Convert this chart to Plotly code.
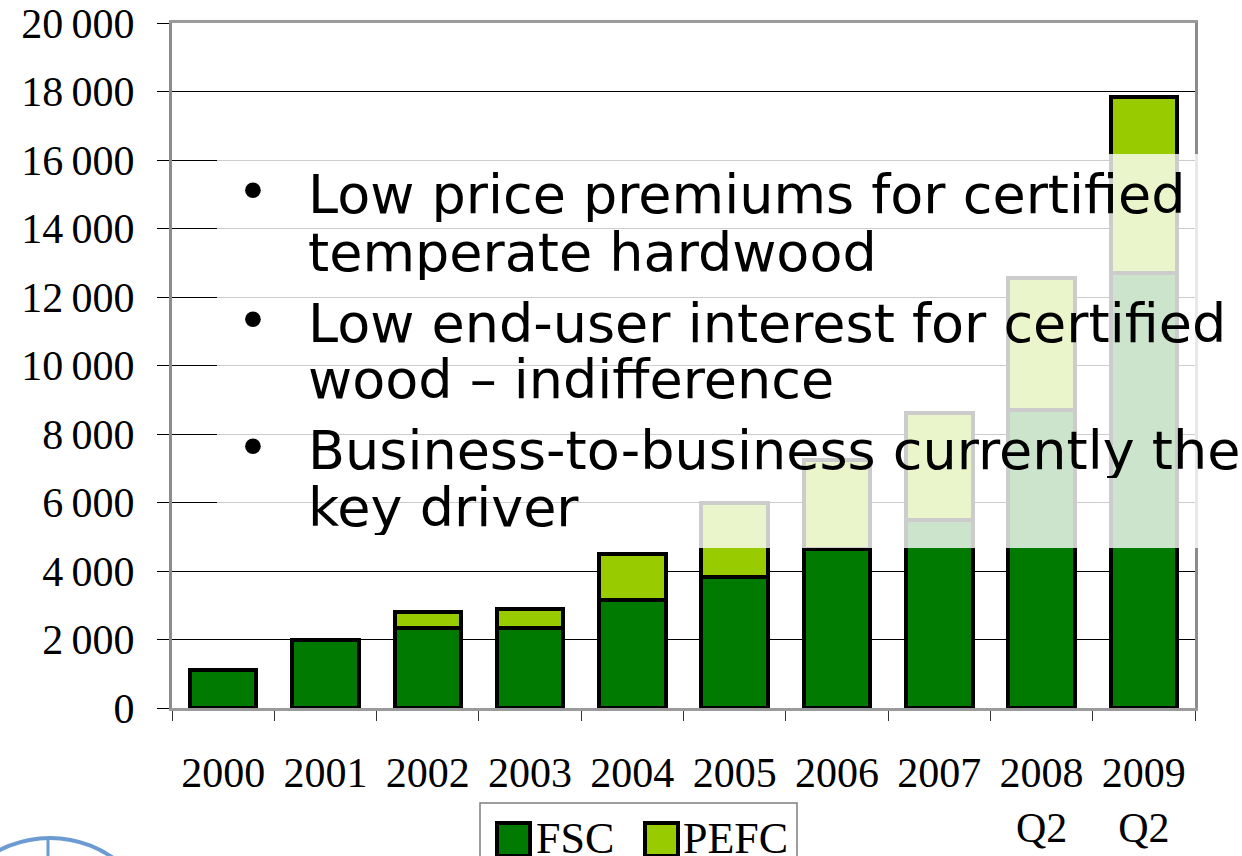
import plotly.graph_objects as go

# Certified volumes by year (stacked FSC + PEFC)
years = ["2000", "2001", "2002", "2003", "2004", "2005", "2006", "2007", "2008", "2009"]
year_labels = ["2000", "2001", "2002", "2003", "2004", "2005", "2006", "2007",
               "2008<br>Q2", "2009<br>Q2"]
fsc = [1100, 2000, 2350, 2350, 3150, 3830, 4650, 5500, 8700, 12700]
pefc = [None, None, 450, 550, 1350, 2170, 2600, 3100, 3850, 5150]

y_ticks = [0, 2000, 4000, 6000, 8000, 10000, 12000, 14000, 16000, 18000, 20000]
y_ticktext = ["{:,}".format(v).replace(",", "\u2009") for v in y_ticks]

bullets = [
    ["Low price premiums for certified", "temperate hardwood"],
    ["Low end-user interest for certified", "wood \u2013 indifference"],
    ["Business-to-business currently the", "key driver"],
]

FSC_COLOR = "#007A00"
PEFC_COLOR = "#99CC00"

# plot-area geometry in pixels
L, R, T, B = 172, 1195, 23, 708
W_FIG, H_FIG = 1242, 856


def px_x(px):
    return (px - L) / (R - L)


def px_y(py):
    return (B - py) / (B - T)


fig = go.Figure()
fig.add_trace(go.Bar(
    x=years, y=fsc, name="FSC",
    marker=dict(color=FSC_COLOR, line=dict(color="black", width=4)),
))
fig.add_trace(go.Bar(
    x=years, y=pefc, name="PEFC",
    marker=dict(color=PEFC_COLOR, line=dict(color="black", width=4)),
))

serif = "Liberation Serif, Times New Roman, serif"
sans = "DejaVu Sans, Verdana, sans-serif"

fig.update_layout(
    width=W_FIG, height=H_FIG,
    margin=dict(l=L, r=W_FIG - R, t=T, b=H_FIG - B, pad=0, autoexpand=False),
    barmode="stack", bargap=0.35,
    plot_bgcolor="white", paper_bgcolor="white",
    showlegend=False,
    font=dict(family=serif, size=42, color="black"),
)

fig.update_yaxes(
    range=[0, 20000], tickvals=y_ticks, ticktext=y_ticktext, automargin=False,
    showgrid=True, gridcolor="black", gridwidth=1, zeroline=False,
    showline=True, linecolor="#8c8c8c", linewidth=3, mirror=True,
    ticks="outside", ticklen=12, tickcolor="black", tickwidth=1,
    ticklabelstandoff=14,
    tickfont=dict(family=serif, size=42, color="black"),
)
fig.update_xaxes(
    type="category", tickvals=years, ticktext=year_labels, automargin=False,
    tickson="boundaries", ticks="outside", ticklen=10, tickcolor="#333333", tickwidth=1,
    showline=True, linecolor="#9a9a9a", linewidth=3, mirror=True,
    showgrid=False, ticklabelstandoff=26,
    tickfont=dict(family=serif, size=42, color="black"),
)

# translucent text panel over the upper part of the chart
fig.add_shape(
    type="rect", xref="paper", yref="paper",
    x0=px_x(217), x1=px_x(W_FIG + 5), y0=px_y(548), y1=px_y(154),
    fillcolor="rgba(255,255,255,0.80)", line=dict(width=0), layer="above",
)

# bullet text, one annotation per line
line_centers = [[194, 252], [323, 379], [450, 507]]
for item, centers in zip(bullets, line_centers):
    fig.add_annotation(
        text="\u2022", xref="paper", yref="paper", x=px_x(253), y=px_y(centers[0] - 3),
        xanchor="center", yanchor="middle", showarrow=False, height=56, valign="middle",
        font=dict(family=sans, size=54, color="black"),
    )
    for txt, cy in zip(item, centers):
        fig.add_annotation(
            text=txt, xref="paper", yref="paper", x=px_x(306), y=px_y(cy),
            xanchor="left", yanchor="middle", showarrow=False, height=56, valign="middle",
            font=dict(family=sans, size=54, color="black"),
        )

# legend box with swatches
fig.add_shape(type="rect", xref="paper", yref="paper",
              x0=px_x(480), x1=px_x(797), y0=px_y(880), y1=px_y(803),
              line=dict(color="#7f7f7f", width=1.5), fillcolor="white", layer="above")
for x0, color in [(497, FSC_COLOR), (645, PEFC_COLOR)]:
    fig.add_shape(type="rect", xref="paper", yref="paper",
                  x0=px_x(x0), x1=px_x(x0 + 33), y0=px_y(856), y1=px_y(823),
                  line=dict(color="black", width=4), fillcolor=color, layer="above")
for x0, label in [(534, "FSC"), (681, "PEFC")]:
    fig.add_annotation(text=label, xref="paper", yref="paper",
                       x=px_x(x0), y=px_y(838), xanchor="left", yanchor="middle",
                       showarrow=False, font=dict(family=serif, size=44, color="black"))

# partial emblem in the lower-left corner
fig.add_shape(type="circle", xref="paper", yref="paper",
              xsizemode="pixel", ysizemode="pixel",
              xanchor=px_x(50), yanchor=px_y(948),
              x0=-110, x1=110, y0=-110, y1=110,
              line=dict(color="#6b9bd2", width=4), layer="above")
fig.add_shape(type="line", xref="paper", yref="paper",
              x0=px_x(48), x1=px_x(48), y0=px_y(838), y1=px_y(860),
              line=dict(color="#6b9bd2", width=3), layer="above")

fig.write_html("out.html")
